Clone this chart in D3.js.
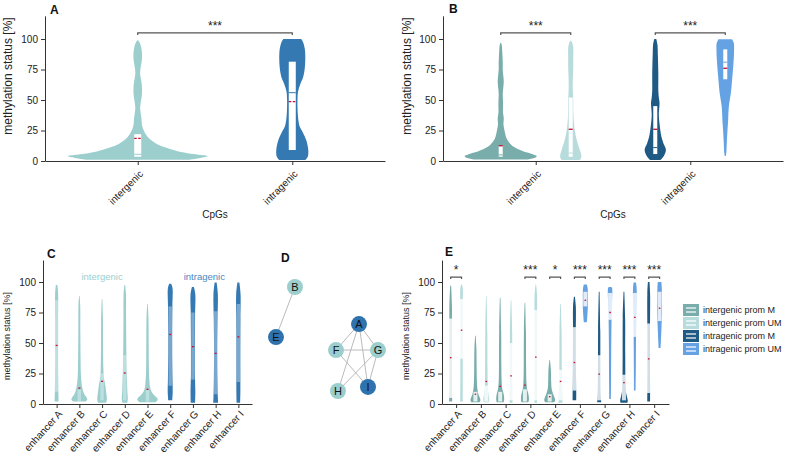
<!DOCTYPE html>
<html><head><meta charset="utf-8">
<script src="https://cdn.jsdelivr.net/npm/d3@7"></script>
<style>body{margin:0;background:#fff} svg{display:block} text{font-family:"Liberation Sans",Arial,sans-serif}</style>
</head><body><svg id="c" width="788" height="456"></svg>
<script>
// ---------------- DATA ----------------
const yTicks = [0, 25, 50, 75, 100];
const catsAB = ["intergenic", "intragenic"];
const enhancers = ["enhancer A","enhancer B","enhancer C","enhancer D","enhancer E","enhancer F","enhancer G","enhancer H","enhancer I"];
const groupsE = ["intergenic prom M","intergenic prom UM","intragenic prom M","intragenic prom UM"];

// Panel A: violin profiles (value, relative density) and box stats [q1, median, q3, mean]
const aInterVals = [1, 2.5, 4, 6, 8, 11, 14, 18, 22, 27, 31, 34, 38, 43, 48, 53, 58, 63, 68, 72, 77, 82, 88, 93, 97, 99];
const aInterDens = [50, 63, 70, 53, 40, 28, 19, 12, 8, 5, 4, 3.8, 3.2, 2.4, 3, 4, 4.3, 4, 3, 2.4, 3, 4, 4.3, 3.5, 2, 0.3];
const aInterStats = [3.5, 5.5, 22, 18.6];
const aIntraVals = [0.8, 3.5, 9, 17, 23, 28, 34, 40, 45, 50, 57, 63, 69, 76, 83, 90, 94, 97, 100];
const aIntraDens = [13, 15.5, 16, 14, 10.8, 7.5, 6, 5.4, 5.2, 5.2, 5.8, 8, 11, 12.5, 13, 12.8, 12, 11, 9];
const aIntraStats = [9, 56, 81.4, 48.6];
const aSig = "***";

// Panel B: [inter M, inter UM, intra M, intra UM]
const bVals = [
  [1.2, 2.5, 4, 6, 8, 11, 14, 18, 22, 26, 30, 35, 40, 45, 50, 55, 60, 65, 70, 75, 80, 85, 90, 95, 97],
  [0.8, 3.5, 9, 17, 25, 33, 42, 50, 60, 70, 77, 85, 93, 97, 98.6],
  [0.8, 3.5, 9, 14.5, 20, 25, 32, 38, 44, 48, 52, 58, 65, 72, 80, 88, 95, 100],
  [4, 6.5, 15, 23, 33, 44.5, 55.5, 62, 69, 77, 85.5, 92, 96.5, 99.7]
];
const bDens = [
  [26, 33, 35.5, 30, 22, 14, 9.5, 6, 4.5, 3.5, 2.7, 3, 2.2, 2.3, 2.2, 2, 2.5, 3, 2.5, 2, 2, 1.8, 1.5, 1, 0.3],
  [9, 10.5, 9, 6, 4, 3, 2.5, 2.5, 2, 2.2, 2.5, 2.5, 2.5, 1.5, 0.3],
  [5, 8, 10.5, 8, 6, 5, 4, 3.5, 4, 4.2, 3.5, 3, 3, 3, 2.8, 2.5, 2.2, 1],
  [0.5, 1, 1.5, 2, 2.8, 3.5, 5.5, 6.3, 7, 7.8, 8.5, 8.7, 8.5, 6.7]
];
const bStats = [[3.5, 5, 12.3, 12.5], [3.5, 6.5, 52, 26], [5.7, 11, 45, 26], [67, 81, 91.5, 76]];
const bSig = ["***", "***"];

// Panel C: per enhancer
const cVals = [
  [2, 10, 30, 50, 70, 90, 97.5],
  [2, 3.5, 5, 8, 10, 14, 17, 25, 40, 60, 80, 88.5],
  [1, 3, 6, 10, 14, 18, 22, 30, 50, 70, 86],
  [1, 4, 10, 20, 30, 50, 70, 90, 97.5],
  [1.5, 3, 4.5, 7, 10, 14, 18, 25, 35, 50, 70, 82],
  [3, 10, 20, 40, 60, 80, 95, 98.5],
  [1, 10, 25, 50, 75, 90, 96],
  [1, 5, 20, 45, 70, 90, 99.5],
  [1, 10, 30, 50, 70, 90, 99.5]
];
const cDens = [
  [2, 1.8, 1.5, 1.5, 1.5, 1.5, 0.8],
  [6, 8, 7.5, 5, 4, 2.8, 2.2, 1.5, 1.2, 1, 0.9, 0.3],
  [4, 4.7, 4.7, 4, 3.5, 2.6, 1.8, 1.3, 1, 0.9, 0.3],
  [2.5, 3, 2.6, 2.2, 1.8, 1.5, 1.3, 1.2, 0.4],
  [8, 10, 10, 7, 4, 2.5, 2, 1.5, 1.3, 1.2, 1, 0.3],
  [2, 2.5, 2.3, 2, 2, 2.2, 2.3, 1],
  [2.2, 2.4, 2, 2, 2.2, 2.4, 1],
  [2.5, 2.2, 1.8, 1.6, 1.9, 2.2, 1],
  [1.8, 2, 2, 2, 2.1, 2.2, 1]
];
const cStats = [[10, 45, 85, 48], [2, 5, 12, 13], [3, 8, 25, 18.6], [3, 15, 40, 25.4], [2, 4, 12, 12],
                [15, 60, 80, 57], [20, 45, 75, 47], [8, 35, 76, 41.5], [18, 60, 82, 55]];
const cGroup = ["inter","inter","inter","inter","inter","intra","intra","intra","intra"];

// Panel D: network (layout coordinates in unit square)
const dNodes = [
  {id:"A", type:"intra", lx:0.774, ly:0.383},
  {id:"B", type:"inter", lx:0.217, ly:0.061},
  {id:"E", type:"intra", lx:0.052, ly:0.496},
  {id:"F", type:"inter", lx:0.574, ly:0.609},
  {id:"G", type:"inter", lx:0.939, ly:0.609},
  {id:"H", type:"inter", lx:0.591, ly:0.965},
  {id:"I", type:"intra", lx:0.852, ly:0.930}
];
const dLinks = [["B","E"],["A","F"],["A","G"],["A","H"],["A","I"],["F","G"],["F","I"],["G","H"],["G","I"]];

// Panel E: M and UM violins per enhancer
const eMVals = [
  [2, 5, 20, 40, 60, 80, 97],
  [1.5, 3, 5, 8, 12, 18, 30, 45, 56],
  [1.5, 4, 8, 12, 18, 30, 60, 87],
  [1.5, 4, 8, 12, 18, 30, 60, 83],
  [1.5, 3, 5, 8, 12, 18, 28, 36],
  [3, 10, 30, 60, 80, 88],
  [1.5, 4, 10, 30, 60, 92],
  [1, 3, 6, 10, 20, 40, 70, 92],
  [2, 10, 30, 60, 90, 100]
];
const eMDens = [
  [1.5, 1.5, 1.3, 1.2, 1.2, 1.3, 0.5],
  [4, 5, 4.5, 3, 2, 1.5, 1.2, 1, 0.3],
  [3.5, 4, 3.5, 2.2, 1.5, 1.2, 1, 0.3],
  [3.5, 4, 3.5, 2.2, 1.5, 1.2, 1, 0.3],
  [4.5, 5.5, 5, 3.5, 2, 1.5, 1.2, 0.3],
  [1.8, 1.8, 1.5, 1.4, 1.4, 0.5],
  [2, 1.8, 1.4, 1.2, 1.1, 0.4],
  [3.5, 3.8, 3, 2, 1.5, 1.3, 1.2, 0.4],
  [1.4, 1.4, 1.3, 1.3, 1.4, 0.8]
];
const eMStats = [[5, 30, 70, 38], [2, 4, 10, 8], [2, 4, 10, 14.5], [2, 5, 12, 15.5], [2, 4, 8, 6],
                 [11, 17, 63, 34], [3, 9, 40, 24.5], [3, 8, 24, 17.5], [9, 33, 66, 37]];
const eUMVals = [
  [2, 20, 40, 60, 80, 95, 98],
  [1.5, 4, 8, 15, 30, 60, 88.5],
  [1, 5, 15, 30, 60, 85],
  [1, 10, 30, 60, 90, 98],
  [1, 5, 15, 30, 60, 82],
  [67, 72, 80, 88, 95, 98],
  [4, 20, 50, 70, 85, 95, 96],
  [11, 30, 55, 70, 85, 95, 99.5],
  [46, 55, 65, 75, 85, 95, 100]
];
const eUMDens = [
  [1.3, 1.2, 1.2, 1.2, 1.2, 1.2, 0.4],
  [2.5, 3, 2.2, 1.5, 1.2, 1, 0.3],
  [1.5, 1.5, 1.3, 1.2, 1.1, 0.3],
  [1.3, 1.2, 1.2, 1.2, 1.2, 0.3],
  [2, 1.8, 1.5, 1.2, 1, 0.3],
  [1.5, 2, 2.5, 2.5, 2.3, 1.5],
  [0.8, 1, 1.2, 1.5, 2, 2, 1.2],
  [0.8, 1, 1.2, 1.5, 1.8, 1.8, 1.2],
  [1, 1.5, 2, 2.5, 2.3, 2.2, 1.8]
];
const eUMStats = [[37, 60, 86, 60.5], [2, 6, 15, 18.5], [3, 8, 50, 23], [3, 20, 77, 38.5], [3, 8, 28, 18.5],
                  [80, 86, 92, 85], [69, 78, 91, 75], [55, 75, 91, 71], [68, 80, 92, 78.5]];
const eSig = ["*", "", "", "***", "*", "***", "***", "***", "***"];

// ---------------- STYLE ----------------
const colInter = "#9ccece", colIntra = "#3479b2";
const colB = ["#78adab", "#b8dcdc", "#1f5a85", "#65a2e3"];
const colMean = "#c8102e";
const axisCol = "#333";
const FONT = '"Liberation Sans", Arial, sans-serif';

const svg = d3.select("#c");

function violin(g, xc, y, vals, dens, w, color) {
  const pts = vals.map((v, i) => [v, dens[i]]);
  const area = d3.area().curve(d3.curveCatmullRom.alpha(0.5))
    .y(d => y(d[0])).x0(d => xc - w(d[1])).x1(d => xc + w(d[1]));
  g.append("path").attr("d", area(pts)).attr("fill", color).attr("stroke", "none");
}
function box(g, xc, y, st, bw, color, fill, op, meanW, dash) {
  g.append("rect").attr("x", xc - bw / 2).attr("y", y(st[2])).attr("width", bw)
    .attr("height", y(st[0]) - y(st[2])).attr("fill", fill).attr("fill-opacity", op);
  if (color) g.append("line").attr("x1", xc - bw / 2).attr("x2", xc + bw / 2)
    .attr("y1", y(st[1])).attr("y2", y(st[1])).attr("stroke", color).attr("stroke-width", 1);
  g.append("line").attr("x1", xc - meanW / 2).attr("x2", xc + meanW / 2)
    .attr("y1", y(st[3])).attr("y2", y(st[3])).attr("stroke", colMean).attr("stroke-width", 1.3)
    .attr("stroke-dasharray", dash || null);
}
function axes(g, x, y, cats, yLabelX, yLabelY, yLabelSize, rot, shift) {
  const ya = g.append("g").attr("transform", `translate(${x.range()[0]},0)`)
    .call(d3.axisLeft(y).tickValues(yTicks).tickSize(4).tickSizeOuter(0).tickPadding(3));
  const xa = g.append("g").attr("transform", `translate(0,${y(0)})`)
    .call(d3.axisBottom(x).tickValues(d3.range(cats.length)).tickFormat(i => cats[i]).tickSize(4).tickSizeOuter(0));
  [ya, xa].forEach(a => {
    a.attr("font-family", FONT).attr("font-size", 10);
    a.select(".domain").attr("stroke", axisCol).attr("stroke-width", 1);
    a.selectAll(".tick line").attr("stroke", axisCol);
    a.selectAll(".tick text").attr("fill", "#222");
  });
  xa.selectAll(".tick text").attr("x", 0).attr("y", 0).attr("dy", "0.35em")
    .attr("text-anchor", "end").attr("transform", `translate(3,${shift}) rotate(-${rot})`);
  g.append("text").attr("transform", `translate(${yLabelX},${yLabelY}) rotate(-90)`)
    .attr("text-anchor", "middle").attr("font-size", yLabelSize).attr("fill", "#222")
    .text("methylation status [%]");
}
function bracket(g, x1, x2, yb, label, starY) {
  g.append("path").attr("d", `M${x1},${yb + 2}V${yb}H${x2}V${yb + 2}`)
    .attr("fill", "none").attr("stroke", "#555").attr("stroke-width", 1.2);
  g.append("text").attr("x", (x1 + x2) / 2).attr("y", starY).attr("text-anchor", "middle")
    .attr("font-size", 12).attr("fill", "#222").text(label);
}
function letter(t, x, yb) {
  svg.append("text").attr("x", x).attr("y", yb).attr("font-size", 12).attr("font-weight", "bold")
    .attr("fill", "#111").text(t);
}

// ---------------- PANEL A ----------------
{
  const g = svg.append("g");
  const x = d3.scaleLinear().domain([-0.6, 1.6]).range([45, 385]);
  const y = d3.scaleLinear().domain([0, 119]).range([161, 161 - 119 * 1.22]);
  const w = d3.scaleLinear().domain([0, d3.max(aInterDens)]).range([0, 70]);
  violin(g, x(0), y, aInterVals, aInterDens, w, colInter);
  violin(g, x(1), y, aIntraVals, aIntraDens, w, colIntra);
  box(g, x(0), y, aInterStats, 7, colInter, "#fff", 1, 7, "2.5,1.5");
  box(g, x(1), y, aIntraStats, 7, colIntra, "#fff", 1, 7, "2.5,1.5");
  axes(g, x, y, catsAB, 12, 76, 12, 45, 11);
  bracket(g, x(0), x(1), y(105), aSig, y(105) - 3);
  g.append("text").attr("x", (x.range()[0] + x.range()[1]) / 2).attr("y", 218).attr("text-anchor", "middle")
    .attr("font-size", 10).attr("fill", "#222").text("CpGs");
  letter("A", 50, 14);
}
// ---------------- PANEL B ----------------
{
  const g = svg.append("g");
  const x = d3.scaleLinear().domain([-0.6, 1.6]).range([443, 783]);
  const y = d3.scaleLinear().domain([0, 119]).range([161, 161 - 119 * 1.22]);
  const w = d3.scaleLinear().domain([0, d3.max(bDens[0])]).range([0, 36]);
  const pos = [x(0) - 35, x(0) + 35, x(1) - 35, x(1) + 35];
  bVals.forEach((v, i) => violin(g, pos[i], y, v, bDens[i], w, colB[i]));
  bStats.forEach((s, i) => box(g, pos[i], y, s, 4, colB[i], "#fff", 1, 4));
  axes(g, x, y, catsAB, 411, 76, 12, 45, 11);
  bracket(g, pos[0], pos[1], y(105), bSig[0], y(105) - 3);
  bracket(g, pos[2], pos[3], y(105), bSig[1], y(105) - 3);
  g.append("text").attr("x", (x.range()[0] + x.range()[1]) / 2).attr("y", 218).attr("text-anchor", "middle")
    .attr("font-size", 10).attr("fill", "#222").text("CpGs");
  letter("B", 449, 13);
}
// ---------------- PANEL C ----------------
{
  const g = svg.append("g");
  const x = d3.scaleLinear().domain([-0.6, 8.6]).range([43, 252]);
  const y = d3.scaleLinear().domain([0, 118]).range([404, 404 - 118 * 1.22]);
  const w = d3.scaleLinear().domain([0, 10]).range([0, 10]);
  cVals.forEach((v, i) => {
    const col = cGroup[i] === "inter" ? colInter : colIntra;
    violin(g, x(i), y, v, cDens[i], w, col);
    box(g, x(i), y, cStats[i], 3.4, null, "#fff", 0.35, 2);
  });
  axes(g, x, y, enhancers, 10, 336, 9, 48, 8);
  g.append("text").attr("x", x(2)).attr("y", 280).attr("text-anchor", "middle").attr("font-size", 9.5)
    .attr("fill", colInter).text("intergenic");
  g.append("text").attr("x", x(6.5)).attr("y", 280).attr("text-anchor", "middle").attr("font-size", 9.5)
    .attr("fill", "#4a86c0").text("intragenic");
  letter("C", 47, 258);
}
// ---------------- PANEL D ----------------
{
  const g = svg.append("g");
  const lx = d3.scaleLinear().domain([0, 1]).range([270, 385]);
  const ly = d3.scaleLinear().domain([0, 1]).range([280, 395]);
  const byId = new Map(dNodes.map(n => [n.id, n]));
  g.selectAll("line.l").data(dLinks).join("line")
    .attr("x1", d => lx(byId.get(d[0]).lx)).attr("y1", d => ly(byId.get(d[0]).ly))
    .attr("x2", d => lx(byId.get(d[1]).lx)).attr("y2", d => ly(byId.get(d[1]).ly))
    .attr("stroke", "#bbb").attr("stroke-width", 1);
  const n = g.selectAll("g.n").data(dNodes).join("g").attr("transform", d => `translate(${lx(d.lx)},${ly(d.ly)})`);
  n.append("circle").attr("r", 8).attr("fill", d => d.type === "inter" ? colInter : "#2e73ad");
  n.append("text").attr("text-anchor", "middle").attr("dy", "0.36em").attr("font-size", 11).attr("fill", "#111").text(d => d.id);
  letter("D", 281, 262);
}
// ---------------- PANEL E ----------------
{
  const g = svg.append("g");
  const x = d3.scaleLinear().domain([-0.57, 8.6]).range([442, 669]);
  const y = d3.scaleLinear().domain([0, 118]).range([404, 404 - 118 * 1.22]);
  const w = d3.scaleLinear().domain([0, 5.5]).range([0, 5.5]);
  enhancers.forEach((e, i) => {
    const cm = i < 5 ? colB[0] : colB[2], cu = i < 5 ? colB[1] : colB[3];
    const xm = x(i - 0.22), xu = x(i + 0.22);
    violin(g, xm, y, eMVals[i], eMDens[i], w, cm);
    violin(g, xu, y, eUMVals[i], eUMDens[i], w, cu);
    box(g, xm, y, eMStats[i], 4, null, "#fff", 0.8, 1.6);
    box(g, xu, y, eUMStats[i], 4, null, "#fff", 0.8, 1.6);
    if (eSig[i]) bracket(g, xm, xu, y(104), eSig[i], y(104) - 3);
  });
  axes(g, x, y, enhancers, 409, 336, 9, 48, 8);
  letter("E", 445, 256);
  const lg = g.append("g").attr("transform", "translate(683,304)");
  groupsE.forEach((t, i) => {
    const r = lg.append("g").attr("transform", `translate(0,${i * 13})`);
    r.append("rect").attr("width", 16).attr("height", 12).attr("fill", colB[i]);
    [4, 8].forEach(yy => r.append("line").attr("x1", 3).attr("x2", 13).attr("y1", yy).attr("y2", yy)
      .attr("stroke", "#fff").attr("stroke-width", 1.2));
    r.append("text").attr("x", 20).attr("y", 6).attr("dy", "0.35em").attr("font-size", 9).attr("fill", "#222").text(t);
  });
}
</script></body></html>
